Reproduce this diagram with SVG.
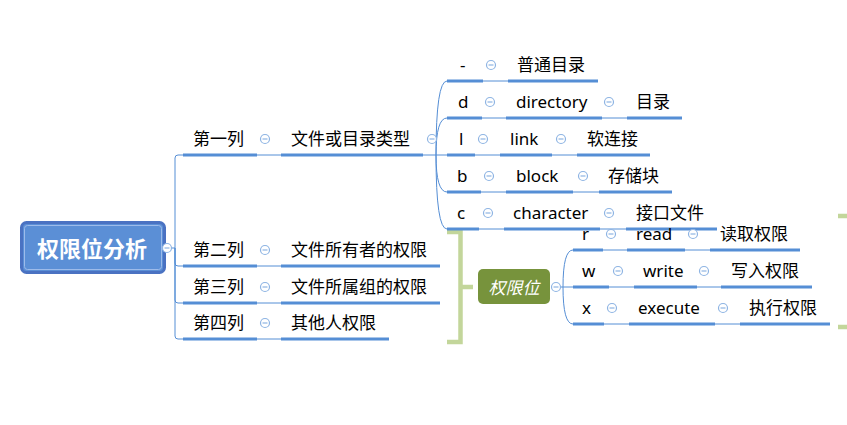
<svg xmlns="http://www.w3.org/2000/svg" xmlns:xlink="http://www.w3.org/1999/xlink" width="847" height="425" viewBox="0 0 847 425">
<style>
text{font-family:"Noto Sans","Noto Sans CJK SC",sans-serif;font-size:17px;fill:#000}
.ul{stroke:#558ed5;stroke-width:3;fill:none}
.cn{stroke:#558ed5;stroke-width:1;fill:none}
.br{stroke:#c3d69b;stroke-width:4.5;fill:none}
.col circle{fill:#fff;stroke:#8eb4e3;stroke-width:1.2}
.col path{stroke:#8eb4e3;stroke-width:1.2}
</style>
<defs>
<g id="minus" class="col"><circle r="4.5"/><path d="M-2.5 0H2.5"/></g>
</defs>
<rect width="847" height="425" fill="#fff"/>
<g id="connectors">
<path class="cn" d="M167 248H175M175 248V158Q175 155 178 155H183M175 248V263Q175 266 178 266H183M175 248V300Q175 303 178 303H183M175 248V336Q175 339 178 339H183"/>
<path class="cn" d="M257 155H281M257 266H281M257 303H281M257 339H281"/>
<path class="cn" d="M423 155H436M436 155Q436 81 447 81M436 155Q436 118 447 118M436 155H447M436 155Q436 192 447 192M436 155Q436 229 447 229"/>
<path class="cn" d="M483 81H508M482 118H506M602 118H627M475 155H500M552 155H577M481 192H506M573 192H599M479 229H504M600 229H626"/>
<path class="cn" d="M560 287H563M563 287Q563 250 573 250M563 287H573M563 287Q563 324 573 324"/>
<path class="cn" d="M603 250H627M685 250H710M609 287H634M697 287H721M604 324H629M715 324H740"/>
<path class="br" d="M447 232H460.5V342H447M460.5 287H473"/>
<path class="br" d="M838 216H847M838 327H847"/>
</g>
<g id="root">
<rect x="21.5" y="222.5" width="143" height="50" rx="5" fill="#5b8fd6" stroke="#4a72c2" stroke-width="3"/>
<rect x="24.5" y="225.5" width="137" height="44" rx="3" fill="none" stroke="#9dbbea" stroke-width="1"/>
<text x="92" y="257" text-anchor="middle" style="font-size:22px;font-weight:bold;fill:#fff">权限位分析</text>
<use xlink:href="#minus" x="167" y="248"/>
</g>
<g id="n-col1"><path class="ul" d="M183 155H257"/><text x="193" y="145">第一列</text><use xlink:href="#minus" x="265" y="139"/></g>
<g id="n-col2"><path class="ul" d="M183 266H257"/><text x="193" y="256">第二列</text><use xlink:href="#minus" x="265" y="250"/></g>
<g id="n-col3"><path class="ul" d="M183 303H257"/><text x="193" y="293">第三列</text><use xlink:href="#minus" x="265" y="287"/></g>
<g id="n-col4"><path class="ul" d="M183 339H257"/><text x="193" y="329">第四列</text><use xlink:href="#minus" x="265" y="323"/></g>
<g id="n-type"><path class="ul" d="M281 155H423"/><text x="291" y="145">文件或目录类型</text><use xlink:href="#minus" x="432" y="139"/></g>
<g id="n-owner"><path class="ul" d="M281 266H440"/><text x="291" y="256">文件所有者的权限</text></g>
<g id="n-group"><path class="ul" d="M281 303H440"/><text x="291" y="293">文件所属组的权限</text></g>
<g id="n-other"><path class="ul" d="M281 339H389"/><text x="291" y="329">其他人权限</text></g>
<g id="n-dash"><path class="ul" d="M447 81H483"/><text x="460" y="71">-</text><use xlink:href="#minus" x="491" y="65"/></g>
<g id="n-dash-desc"><path class="ul" d="M508 81H598"/><text x="517" y="71">普通目录</text></g>
<g id="n-d"><path class="ul" d="M447 118H482"/><text x="458" y="108">d</text><use xlink:href="#minus" x="490" y="102"/></g>
<g id="n-directory"><path class="ul" d="M506 118H602"/><text x="516" y="108">directory</text><use xlink:href="#minus" x="609" y="102"/></g>
<g id="n-d-desc"><path class="ul" d="M627 118H682"/><text x="636" y="108">目录</text></g>
<g id="n-l"><path class="ul" d="M447 155H475"/><text x="459" y="145">l</text><use xlink:href="#minus" x="483" y="139"/></g>
<g id="n-link"><path class="ul" d="M500 155H552"/><text x="510" y="145">link</text><use xlink:href="#minus" x="561" y="139"/></g>
<g id="n-l-desc"><path class="ul" d="M577 155H650"/><text x="587" y="145">软连接</text></g>
<g id="n-b"><path class="ul" d="M447 192H481"/><text x="457" y="182">b</text><use xlink:href="#minus" x="489" y="176"/></g>
<g id="n-block"><path class="ul" d="M506 192H573"/><text x="516" y="182">block</text><use xlink:href="#minus" x="583" y="176"/></g>
<g id="n-b-desc"><path class="ul" d="M599 192H672"/><text x="608" y="182">存储块</text></g>
<g id="n-c"><path class="ul" d="M447 229H479"/><text x="457" y="219">c</text><use xlink:href="#minus" x="488" y="213"/></g>
<g id="n-character"><path class="ul" d="M504 229H600"/><text x="513" y="219">character</text><use xlink:href="#minus" x="609" y="213"/></g>
<g id="n-c-desc"><path class="ul" d="M626 229H717"/><text x="636" y="219">接口文件</text></g>
<g id="n-perm">
<rect x="478" y="269" width="72" height="35" rx="5" fill="#77933c"/>
<text x="514" y="293.5" text-anchor="middle" style="font-style:italic;fill:#fff">权限位</text>
<use xlink:href="#minus" x="556" y="287"/>
</g>
<g id="n-r"><path class="ul" d="M573 250H603"/><text x="582" y="240">r</text><use xlink:href="#minus" x="611" y="234"/></g>
<g id="n-read"><path class="ul" d="M627 250H685"/><text x="636" y="240">read</text><use xlink:href="#minus" x="693" y="234"/></g>
<g id="n-r-desc"><path class="ul" d="M710 250H800"/><text x="720" y="240">读取权限</text></g>
<g id="n-w"><path class="ul" d="M573 287H609"/><text x="582" y="277">w</text><use xlink:href="#minus" x="618" y="271"/></g>
<g id="n-write"><path class="ul" d="M634 287H697"/><text x="643" y="277">write</text><use xlink:href="#minus" x="704" y="271"/></g>
<g id="n-w-desc"><path class="ul" d="M721 287H812"/><text x="731" y="277">写入权限</text></g>
<g id="n-x"><path class="ul" d="M573 324H604"/><text x="582" y="314">x</text><use xlink:href="#minus" x="612" y="308"/></g>
<g id="n-execute"><path class="ul" d="M629 324H715"/><text x="638" y="314">execute</text><use xlink:href="#minus" x="723" y="308"/></g>
<g id="n-x-desc"><path class="ul" d="M740 324H830"/><text x="749" y="314">执行权限</text></g>
</svg>
